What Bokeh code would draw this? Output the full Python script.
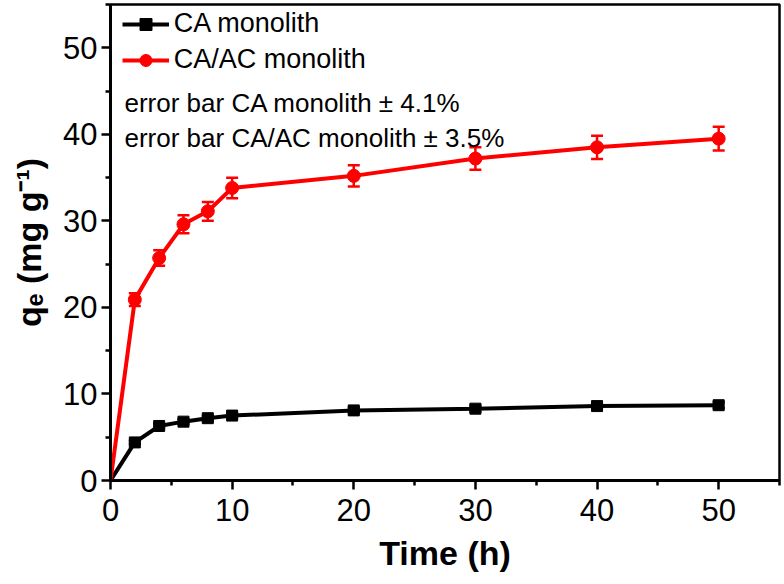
from bokeh.plotting import figure
from bokeh.models import (Range1d, ColumnDataSource, Whisker, TeeHead, Legend,
                          LegendItem, Label, FixedTicker)
from bokeh.embed import file_html
from bokeh.resources import INLINE

# ---------------- data ----------------
time_h = [0, 2, 4, 6, 8, 10, 20, 30, 40, 50]
ca_qe = [0, 4.4, 6.3, 6.8, 7.2, 7.5, 8.1, 8.3, 8.6, 8.7]
caac_qe = [0, 20.9, 25.7, 29.6, 31.1, 33.8, 35.2, 37.2, 38.5, 39.5]
ca_err_pct = 4.1
caac_err_pct = 3.5
x_ticks = [0, 10, 20, 30, 40, 50]
y_ticks = [0, 10, 20, 30, 40, 50]
series_names = ["CA monolith", "CA/AC monolith"]
note_lines = ["error bar CA monolith \u00b1 4.1%", "error bar CA/AC monolith \u00b1 3.5%"]
x_title = "Time (h)"
y_title = "q\u2091 (mg g\u207b\u00b9)"

# ---------------- layout ----------------
FONT = "Liberation Sans"
W, H = 784, 584
BL, BR, BT, BB = 110, 5, 4, 104
FW, FH = W - BL - BR, H - BT - BB
XMAX, YMAX = 55, 55
FL, FB = BL, BT + FH  # frame left / bottom in page pixels


def sx(px):
    return (px - FL) / FW * XMAX


def sy(py):
    return (FB - py) / FH * YMAX


p = figure(width=W, height=H, output_backend="svg", toolbar_location=None,
           x_range=Range1d(0, XMAX), y_range=Range1d(0, YMAX),
           min_border_left=BL, min_border_right=BR,
           min_border_top=BT, min_border_bottom=BB)
p.grid.visible = False
p.outline_line_color = "black"
p.outline_line_width = 2.5
p.background_fill_color = "white"
p.border_fill_color = "white"

p.xaxis.ticker = FixedTicker(ticks=x_ticks, minor_ticks=[t + 5 for t in x_ticks])
p.yaxis.ticker = FixedTicker(ticks=y_ticks, minor_ticks=[t + 5 for t in y_ticks])
for ax in (p.xaxis[0], p.yaxis[0]):
    ax.axis_line_width = 3
    ax.axis_line_color = "black"
    ax.major_tick_line_width = 2.5
    ax.minor_tick_line_width = 2.5
    ax.major_tick_line_color = "black"
    ax.minor_tick_line_color = "black"
    ax.major_tick_out = 9
    ax.major_tick_in = 0
    ax.minor_tick_out = 5
    ax.minor_tick_in = 0
    ax.major_label_text_font = FONT
    ax.major_label_text_font_size = "31px"
    ax.major_label_text_color = "black"
    ax.axis_label_text_font = FONT
    ax.axis_label_text_font_size = "34px"
    ax.axis_label_text_font_style = "bold"
    ax.axis_label_text_color = "black"
p.xaxis.major_label_standoff = 9
p.yaxis.major_label_standoff = 4
p.xaxis.axis_label = x_title
p.xaxis.axis_label_standoff = 10
p.yaxis.axis_label = y_title
p.yaxis.axis_label_standoff = 12

# ---------------- series ----------------
ca_line = p.line(time_h, ca_qe, line_color="black", line_width=4)
ca_src = ColumnDataSource(dict(
    x=time_h[1:], y=ca_qe[1:],
    lo=[v * (1 - ca_err_pct / 100) for v in ca_qe[1:]],
    hi=[v * (1 + ca_err_pct / 100) for v in ca_qe[1:]]))
ca_pts = p.scatter("x", "y", source=ca_src, marker="square", size=11, color="black")

caac_line = p.line(time_h, caac_qe, line_color="#ff0000", line_width=4)
caac_src = ColumnDataSource(dict(
    x=time_h[1:], y=caac_qe[1:],
    lo=[v * (1 - caac_err_pct / 100) for v in caac_qe[1:]],
    hi=[v * (1 + caac_err_pct / 100) for v in caac_qe[1:]]))
caac_pts = p.scatter("x", "y", source=caac_src, marker="circle", size=13, color="#ff0000")

for src, col in ((ca_src, "black"), (caac_src, "#ff0000")):
    p.add_layout(Whisker(source=src, base="x", lower="lo", upper="hi",
                         dimension="height", line_color=col, line_width=2.5,
                         upper_head=TeeHead(size=12, line_color=col, line_width=2.5),
                         lower_head=TeeHead(size=12, line_color=col, line_width=2.5)))

# ---------------- legend ----------------
legend = Legend(items=[LegendItem(label=series_names[0], renderers=[ca_line, ca_pts]),
                       LegendItem(label=series_names[1], renderers=[caac_line, caac_pts])],
                location=(11.7, FH - 6 - 65), padding=0, margin=0, spacing=5,
                glyph_width=47, glyph_height=30, label_height=30, label_standoff=5,
                label_text_font=FONT, label_text_font_size="27px",
                label_text_color="black",
                border_line_color=None, background_fill_alpha=0)
p.add_layout(legend)

for txt, base_py in zip(note_lines, (102, 137)):
    p.add_layout(Label(x=sx(124), y=sy(base_py), text=txt, text_font=FONT,
                       text_font_size="26px", text_color="black",
                       text_align="left", text_baseline="alphabetic"))

open("out.html", "w").write(file_html(p, INLINE))
